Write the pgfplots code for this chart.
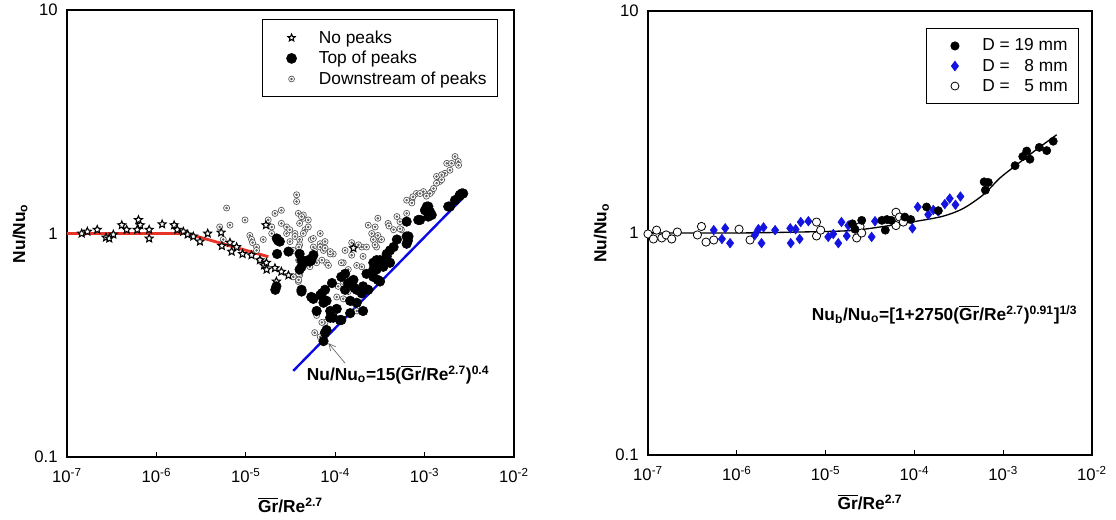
\documentclass[border=0pt]{standalone}
\usepackage{fontspec}
\setmainfont{Liberation Sans}
\usepackage{pgfplots}
\pgfplotsset{compat=1.18}
\usetikzlibrary{arrows.meta}
\definecolor{redline}{RGB}{232,52,40}
\definecolor{blueline}{RGB}{10,10,230}
\definecolor{bluemark}{RGB}{20,20,225}
\definecolor{dsgray}{RGB}{85,85,85}

\pgfdeclareplotmark{ostar}{%
  \pgfpathmoveto{\pgfpointpolar{90}{\pgfplotmarksize}}%
  \pgfpathlineto{\pgfpointpolar{126}{0.45*\pgfplotmarksize}}%
  \pgfpathlineto{\pgfpointpolar{162}{\pgfplotmarksize}}%
  \pgfpathlineto{\pgfpointpolar{198}{0.45*\pgfplotmarksize}}%
  \pgfpathlineto{\pgfpointpolar{234}{\pgfplotmarksize}}%
  \pgfpathlineto{\pgfpointpolar{270}{0.45*\pgfplotmarksize}}%
  \pgfpathlineto{\pgfpointpolar{306}{\pgfplotmarksize}}%
  \pgfpathlineto{\pgfpointpolar{342}{0.45*\pgfplotmarksize}}%
  \pgfpathlineto{\pgfpointpolar{18}{\pgfplotmarksize}}%
  \pgfpathlineto{\pgfpointpolar{54}{0.45*\pgfplotmarksize}}%
  \pgfpathclose
  \pgfusepathqfillstroke}
\pgfdeclareplotmark{odot}{%
  \pgfpathcircle{\pgfpointorigin}{\pgfplotmarksize}%
  \pgfusepathqfillstroke
  \pgfpathcircle{\pgfpointorigin}{0.3\pgfplotmarksize}%
  \pgfusepathqstroke}

\pgfplotsset{
 mylegimg/.style={legend image code/.code={%
    \path[draw=none,fill=none] (0cm,-0.1cm) rectangle (1.2cm,0.1cm);
    \draw[##1,only marks] plot coordinates {(0.55cm,0cm)};}},
 myaxis/.style={
  scale only axis, anchor=south west,
  xmin=1e-7, xmax=1e-2, ymin=0.1, ymax=10,
  xtick={1e-7,1e-6,1e-5,1e-4,1e-3,1e-2},
  xticklabels={10\textsuperscript{-7},10\textsuperscript{-6},10\textsuperscript{-5},10\textsuperscript{-4},10\textsuperscript{-3},10\textsuperscript{-2}},
  ytick={0.1,1,10}, yticklabels={0.1,1,10},
  xminorticks=false, yminorticks=false,
  xtick pos=left, ytick pos=left,
  major tick length=4pt,
  tick style={black, line width=0.8pt},
  axis line style={line width=1pt},
  tick label style={font=\fontsize{12.5}{14}\selectfont},
  xticklabel style={yshift=-5pt},
  yticklabel style={xshift=-3.5pt},
  every axis y label/.style={at={(axis description cs:-0.105,0.5)}, rotate=90, anchor=center, font=\bfseries\fontsize{13}{15}\selectfont},
  every axis x label/.style={at={(axis description cs:0.5,-0.107)}, anchor=center, font=\bfseries\fontsize{13}{15}\selectfont},
  xlabel={\(\overline{\mbox{Gr}}\)/Re\textsuperscript{2.7}},
  ylabel={Nu/Nu\textsubscript{o}},
  legend cell align=left,
  legend style={anchor=north east, draw=black, line width=0.8pt, fill=white,
    inner xsep=6pt, inner ysep=6pt, row sep=0.5pt,
    font=\fontsize{13}{15}\selectfont, nodes={inner sep=2pt}},
}}

\begin{document}
\begin{tikzpicture}
\path[use as bounding box] (0,0) rectangle (837pt,390pt);

% ---------------- left panel ----------------
\begin{loglogaxis}[myaxis, at={(50.25pt,47.25pt)}, width=335.25pt, height=335.25pt,
  legend style={at={(0.9636,0.979)}}]
\addlegendimage{mylegimg, only marks, mark=ostar, mark size=2.8pt, mark options={fill=white, draw=black, line width=0.8pt}}
\addlegendentry{No peaks}
\addlegendimage{mylegimg, only marks, mark=*, mark size=3.6pt, black}
\addlegendentry{Top of peaks}
\addlegendimage{mylegimg, only marks, mark=odot, mark size=2.2pt, mark options={fill=white, draw=dsgray, line width=0.5pt}}
\addlegendentry{Downstream of peaks}

% Downstream of peaks
\addplot[only marks, mark=odot, mark size=2.3pt, mark options={fill=white, draw=dsgray, line width=0.5pt}, forget plot] coordinates {
(6.1e-6,1.30)(6.65e-6,1.09)(9.8e-6,1.15)(5.1e-6,1.07)(5.6e-6,0.94)(1.11e-5,0.98)
(1.16e-5,0.94)(1.19e-5,0.91)(1.32e-5,0.87)(1.32e-5,0.84)(1.44e-5,0.76)(1.57e-5,0.94)
(1.78e-5,1.15)(1.95e-5,1.07)(1.95e-5,1.00)(2.12e-5,1.23)(2.5e-5,1.27)(2.5e-5,1.11)
(2.86e-5,1.07)(2.86e-5,1.00)(3.1e-5,1.04)(3.12e-5,0.92)(3.55e-5,1.00)(3.55e-5,0.97)
(3.7e-5,1.49)(3.7e-5,1.39)(3.87e-5,1.23)(4.4e-5,1.17)(4.4e-5,1.21)(5.0e-5,1.15)
(4.6e-5,1.04)(4.0e-5,1.11)(4.0e-5,0.94)(4.0e-5,0.89)(3.9e-5,0.87)(4.2e-5,1.19)
(4.4e-5,1.00)(5.0e-5,1.07)(5.4e-5,0.94)(5.7e-5,0.95)(5.7e-5,0.87)(6.8e-5,0.90)
(6.8e-5,1.00)(6.8e-5,0.87)(7.4e-5,0.84)(7.7e-5,0.92)(7.7e-5,0.86)(9.5e-5,0.81)
(8.8e-5,0.81)(8.8e-5,0.83)(8.0e-5,0.74)(8.4e-5,0.72)(7.1e-5,0.76)(5.9e-5,0.83)
(6.2e-5,0.74)(5.2e-5,0.71)(4.0e-5,0.65)(3.9e-5,0.66)(3.87e-5,0.61)(3.4e-5,0.64)
(3.9e-5,0.62)(3.9e-5,0.76)(3.4e-5,0.84)(1.23e-4,0.74)(1.29e-4,0.84)(1.6e-4,0.87)
(1.98e-4,0.87)(2.05e-4,0.79)(2.56e-4,1.00)(3.0e-4,1.17)(2.67e-4,0.94)(3.17e-4,0.94)
(3.9e-4,1.11)(4.5e-4,1.04)(4.9e-4,1.19)(5.5e-4,1.04)(6.3e-4,1.23)(7.2e-4,1.41)
(8.1e-4,1.51)(9.7e-4,1.54)(1.2e-3,1.54)(1.36e-3,1.80)(1.48e-3,1.71)(1.69e-3,1.86)
(1.77e-3,2.06)(2.0e-3,2.06)(2.19e-3,2.21)(2.38e-3,2.10)(1.92e-3,1.92)(1.55e-3,1.83)
(1.55e-3,1.74)(1.36e-3,1.68)(1.26e-3,1.59)(1.15e-3,1.51)(8.9e-4,1.51)(7.4e-4,1.46)
(7.2e-4,1.37)(6.3e-4,1.41)(5.3e-4,1.13)(5.3e-4,1.05)(2.8e-4,1.07)(3.0e-4,0.98)
(2.9e-4,0.87)(3.3e-4,0.94)(2.34e-4,1.09)(2.79e-4,0.89)(2.24e-4,0.87)(1.53e-4,0.91)
(1.82e-4,0.89)(1.53e-4,0.80)(1.98e-4,0.71)(1.74e-4,0.72)(1.4e-4,0.69)(1.17e-4,0.74)
(1.23e-4,0.61)(1.08e-4,0.58)(1.4e-4,0.55)(1.23e-4,0.51)(1.04e-4,0.52)(1.53e-4,0.49)
(1.74e-4,0.45)(2.24e-4,0.56)(6.2e-5,0.43)(5.9e-5,0.36)(7.7e-5,0.40)(7.1e-5,0.40)
(7.4e-5,0.36)(6.8e-5,0.345)(4.0e-4,1.08)(2.4e-3,2.02)(1.05e-3,1.47)
};

% No peaks
\addplot[only marks, mark=ostar, mark size=3.1pt, mark options={fill=white, draw=black, line width=0.8pt}, forget plot] coordinates {
(1.46e-7,1.00)(1.69e-7,1.02)(2.18e-7,1.04)(2.73e-7,0.96)(2.97e-7,0.95)(3.3e-7,0.99)
(4.1e-7,1.09)(4.65e-7,1.04)(6.3e-7,1.15)(6.6e-7,1.09)(6.1e-7,1.04)(8.3e-7,1.04)
(8.3e-7,0.95)(1.16e-6,1.10)(1.58e-6,1.09)(1.71e-6,1.04)(2.0e-6,1.02)(2.24e-6,0.99)
(2.59e-6,0.97)(3.07e-6,0.92)(3.75e-6,1.00)(5.3e-6,1.01)(5.4e-6,0.88)(6.65e-6,0.91)
(6.95e-6,0.83)(7.9e-6,0.87)(9.2e-6,0.81)(1.16e-5,0.80)(1.44e-5,0.76)(1.6e-5,0.72)
(1.71e-5,0.69)(2.12e-5,0.70)(1.68e-5,1.09)(1.7e-5,0.74)(2.5e-5,0.675)(3.0e-5,0.65)
(2.2e-5,0.61)(1.6e-4,0.86)
};

% Top of peaks
\addplot[only marks, mark=*, mark size=3.6pt, black, forget plot] coordinates {
(2.22e-5,0.95)(2.3e-5,0.93)(2.24e-5,0.81)(3.0e-5,0.83)(4.0e-5,0.81)(4.2e-5,0.71)
(5.0e-5,0.76)(2.2e-5,0.58)(2.14e-5,0.56)(4.2e-5,0.55)(5.7e-5,0.51)(7.1e-5,0.54)
(8.0e-5,0.50)(6.2e-5,0.45)(8.8e-5,0.42)(1.04e-4,0.46)(1.13e-4,0.41)(8.0e-5,0.37)
(7.4e-5,0.33)(1.29e-4,0.56)(1.47e-4,0.50)(1.29e-4,0.66)(1.6e-4,0.62)(1.74e-4,0.56)
(2.05e-4,0.58)(2.05e-4,0.45)(2.24e-4,0.66)(2.67e-4,0.74)(3.17e-4,0.76)(2.9e-4,0.69)
(3.77e-4,0.79)(4.1e-4,0.84)(3.17e-4,0.61)(4.9e-4,0.94)(6.3e-4,0.97)(6.5e-4,0.93)
(6.3e-4,1.13)(8.5e-4,1.15)(1.06e-3,1.32)(1.1e-3,1.19)(1.15e-3,1.25)(1.84e-3,1.32)
(2.19e-3,1.41)(2.6e-3,1.51)(2.45e-3,1.47)(4.0e-5,0.69)(5.2e-5,0.75)(4.2e-5,0.76)
(4.2e-5,0.56)(5.4e-5,0.52)(6.8e-5,0.53)(7.7e-5,0.56)(9.2e-5,0.60)(7.4e-5,0.49)
(8.8e-5,0.45)(9.5e-5,0.42)(1.17e-4,0.41)(1.47e-4,0.44)(1.74e-4,0.49)(1.17e-4,0.64)
(1.4e-4,0.60)(1.65e-4,0.57)(1.98e-4,0.54)(2.34e-4,0.56)(2.79e-4,0.71)(3.77e-4,0.76)
(2.67e-4,0.64)(7.7e-5,0.36)(5.4e-5,0.76)(4.8e-5,0.75)(5.7e-5,0.80)(2.4e-5,0.92)
(2.49e-3,1.49)(2.7e-3,1.51)(1.92e-3,1.32)(1.1e-3,1.32)(1.2e-3,1.21)(1.01e-3,1.27)
(8.9e-4,1.15)(6.6e-4,0.97)(6.3e-4,0.90)(4.5e-4,0.87)(3.77e-4,0.81)(2.9e-4,0.76)
(3.45e-4,0.71)(2.67e-4,0.69)(3.0e-4,0.62)(4.1e-4,0.74)
};

\addplot[redline, line width=2.2pt, forget plot] coordinates {(1e-7,1.0)(2.18e-6,1.0)(1.79e-5,0.787)};
\addplot[blueline, line width=1.8pt, forget plot] coordinates {(3.4e-5,0.243)(2.76e-3,1.46)};

\draw[black!60, line width=0.5pt, -{Straight Barb[length=5pt,width=5pt]}] (axis cs:1.29e-4,0.263) -- (axis cs:8.4e-5,0.323);
\node[anchor=west, font=\bfseries\fontsize{13}{15}\selectfont, inner sep=0pt] at (axis cs:4.8e-5,0.233)
  {Nu/Nu\textsubscript{o}=15(\(\overline{\mbox{Gr}}\)/Re\textsuperscript{2.7})\textsuperscript{0.4}};
\end{loglogaxis}

% ---------------- right panel ----------------
\begin{loglogaxis}[myaxis, at={(486pt,48.75pt)}, width=333pt, height=333pt,
  legend style={at={(0.9707,0.9624)}}]
\addlegendimage{mylegimg, only marks, mark=*, mark size=3.0pt, black}
\addlegendentry{D = 19 mm}
\addlegendimage{mylegimg, only marks, mark=diamond*, mark size=3.4pt, bluemark}
\addlegendentry{D =\hspace{0.85em}8 mm}
\addlegendimage{mylegimg, only marks, mark=*, mark size=3.0pt, mark options={fill=white, draw=black, line width=0.6pt}}
\addlegendentry{D =\hspace{0.85em}5 mm}

\addplot[black, line width=1pt, smooth, tension=0.5, forget plot] coordinates {
(1e-7,1.0)(1e-6,1.0)(5e-6,1.01)(1.88e-5,1.025)(4.5e-5,1.07)(1.06e-4,1.13)(2.1e-4,1.19)
(3.55e-4,1.29)(6.0e-4,1.49)(9.2e-4,1.77)(1.42e-3,2.03)(2.38e-3,2.38)(4.0e-3,2.77)};

% D = 5 mm
\addplot[only marks, mark=*, mark size=3.1pt, mark options={fill=white, draw=black, line width=0.6pt}, forget plot] coordinates {
(1.0e-7,0.99)(1.15e-7,0.94)(1.25e-7,1.03)(1.43e-7,0.95)(1.6e-7,0.98)(1.85e-7,0.94)
(2.14e-7,1.01)(3.6e-7,0.98)(4.0e-7,1.07)(4.5e-7,0.91)(5.5e-7,0.93)(1.06e-6,1.04)
(1.41e-6,0.93)(7.9e-6,1.12)(7.9e-6,0.97)(8.8e-6,1.03)(2.24e-5,0.95)(2.44e-5,1.07)
(2.55e-5,1.00)(6.2e-5,1.24)(6.2e-5,1.08)(6.8e-5,1.18)(7.5e-5,1.12)
};

% D = 8 mm
\addplot[only marks, mark=diamond*, mark size=3.6pt, bluemark, forget plot] coordinates {
(5.5e-7,1.03)(6.8e-7,0.94)(7.4e-7,1.05)(8.4e-7,0.90)(1.6e-6,0.98)(1.75e-6,1.04)
(1.9e-6,0.90)(2.0e-6,1.06)(2.7e-6,1.03)(4.0e-6,1.05)(4.05e-6,0.90)(4.6e-6,1.04)
(5.1e-6,0.94)(5.25e-6,1.12)(6.4e-6,1.13)(1.07e-5,0.96)(1.22e-5,0.99)(1.39e-5,0.90)
(1.51e-5,1.12)(1.73e-5,0.97)(1.8e-5,1.08)(3.3e-5,0.96)(3.6e-5,1.13)(9.5e-5,1.05)
(1.09e-4,1.31)(1.43e-4,1.21)(1.63e-4,1.27)(1.86e-4,1.25)(2.2e-4,1.35)(2.5e-4,1.43)
(2.9e-4,1.34)(3.3e-4,1.46)
};

% D = 19 mm
\addplot[only marks, mark=*, mark size=3.1pt, black, forget plot] coordinates {
(2.0e-5,1.10)(2.55e-5,1.14)(2.14e-5,1.04)(4.3e-5,1.14)(4.7e-5,1.03)(4.9e-5,1.15)
(5.5e-5,1.14)(7.8e-5,1.18)(9.1e-5,1.15)(1.37e-4,1.31)(1.86e-4,1.26)(6.1e-4,1.70)
(6.8e-4,1.69)(6.3e-4,1.56)(1.36e-3,2.01)(1.66e-3,2.21)(1.84e-3,2.34)(2.0e-3,2.15)
(2.55e-3,2.43)(3.09e-3,2.35)(3.66e-3,2.59)
};

\node[anchor=west, font=\bfseries\fontsize{13}{15}\selectfont, inner sep=0pt] at (axis cs:6.97e-6,0.428)
  {Nu\textsubscript{b}/Nu\textsubscript{o}=[1+2750(\(\overline{\mbox{Gr}}\)/Re\textsuperscript{2.7})\textsuperscript{0.91}]\textsuperscript{1/3}};
\end{loglogaxis}
\end{tikzpicture}
\end{document}
